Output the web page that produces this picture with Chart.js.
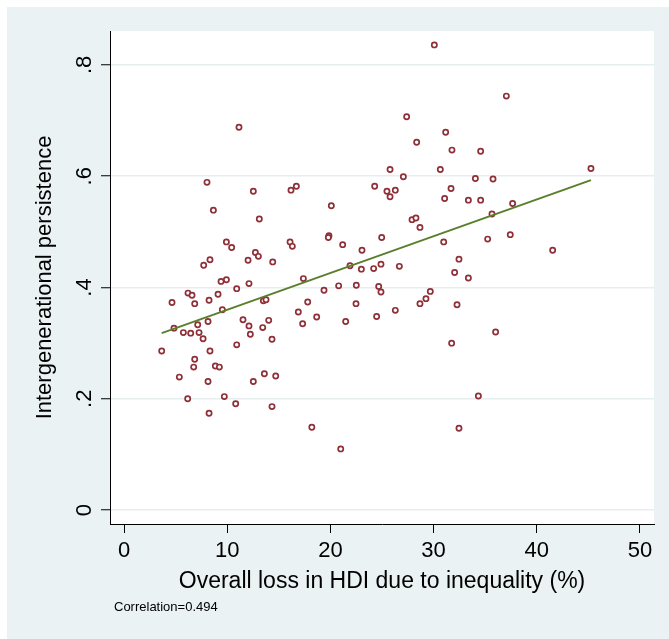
<!DOCTYPE html>
<html>
<head>
<meta charset="utf-8">
<script src="https://cdn.jsdelivr.net/npm/chart.js@4"></script>
<style>
  html, body { margin: 0; padding: 0; background: #ffffff; }
  #wrap { position: relative; width: 669px; height: 639px; }
  #note { position: absolute; left: 114px; top: 599px; font: 13px "Liberation Sans", Arial, sans-serif; color: #000; white-space: nowrap; }
</style>
</head>
<body>
<div id="wrap">
  <canvas id="c" width="669" height="639"></canvas>
  <div id="note">Correlation=0.494</div>
</div>
<script>
// Overall loss in HDI due to inequality (%)
const lossHDI = [
  11.14, 8.04, 12.53, 16.18, 16.7, 8.66, 13.11, 9.92, 10.43, 16.09,
  16.31, 12.73, 13.02, 8.33, 7.72, 12.02, 14.41, 9.92, 9.4, 17.38,
  12.11, 10.92, 6.2, 6.59, 9.11, 4.65, 6.85, 8.24, 13.5, 13.76,
  17.8, 16.89, 18.67, 17.31, 9.53, 8.14, 7.14, 4.84, 5.75, 6.46,
  7.27, 7.66, 11.53, 12.11, 14.02, 13.44, 12.24, 14.34, 10.92, 3.65,
  8.33, 6.85, 6.75, 8.85, 9.24, 5.36, 8.14, 13.6, 14.7, 12.53,
  6.17, 9.72, 10.82, 14.34, 8.24, 30.07, 27.39, 31.17, 28.36, 31.78,
  34.56, 25.78, 30.65, 27.07, 34.05, 35.76, 24.29, 25.48, 26.29, 25.78,
  31.69, 31.07, 33.37, 34.56, 20.09, 35.66, 27.91, 28.29, 28.68, 19.86,
  19.8, 21.19, 24.97, 23.06, 35.24, 30.98, 32.46, 32.04, 33.37, 21.9,
  23.0, 24.19, 24.9, 26.68, 19.38, 20.8, 22.51, 24.68, 24.9, 29.68,
  29.26, 28.68, 32.27, 22.48, 21.48, 24.48, 26.29, 36.01, 31.75, 34.34,
  32.46, 21.0, 18.2, 37.05, 45.25, 37.66, 37.43, 41.54
];
// Intergenerational persistence
const persistence = [
  0.688, 0.589, 0.573, 0.575, 0.582, 0.539, 0.523, 0.482, 0.472, 0.482,
  0.474, 0.463, 0.456, 0.450, 0.440, 0.449, 0.446, 0.414, 0.411, 0.416,
  0.407, 0.398, 0.390, 0.386, 0.388, 0.373, 0.371, 0.377, 0.376, 0.378,
  0.374, 0.356, 0.347, 0.335, 0.360, 0.339, 0.333, 0.327, 0.319, 0.318,
  0.319, 0.308, 0.342, 0.331, 0.341, 0.328, 0.316, 0.307, 0.297, 0.286,
  0.286, 0.271, 0.257, 0.259, 0.257, 0.239, 0.231, 0.245, 0.241, 0.231,
  0.200, 0.204, 0.191, 0.186, 0.174, 0.836, 0.707, 0.679, 0.661, 0.647,
  0.645, 0.612, 0.612, 0.599, 0.596, 0.595, 0.582, 0.573, 0.575, 0.563,
  0.578, 0.560, 0.557, 0.557, 0.547, 0.532, 0.522, 0.525, 0.508, 0.493,
  0.490, 0.477, 0.490, 0.467, 0.487, 0.482, 0.451, 0.427, 0.417, 0.439,
  0.433, 0.434, 0.442, 0.438, 0.395, 0.403, 0.404, 0.402, 0.392, 0.393,
  0.380, 0.371, 0.369, 0.371, 0.339, 0.348, 0.359, 0.320, 0.300, 0.205,
  0.147, 0.110, 0.149, 0.744, 0.614, 0.551, 0.495, 0.467
];
// Linear fit line endpoints
const fitX = [3.65, 45.25];
const fitY = [0.318, 0.593];
// Tick values and labels
const xTicks = [0, 10, 20, 30, 40, 50];
const yTicks = [0, 0.2, 0.4, 0.6, 0.8];
const yTickLabels = ["0", ".2", ".4", ".6", ".8"];

const scatterData = lossHDI.map((x, i) => ({ x: x, y: persistence[i] }));
const fitData = fitX.map((x, i) => ({ x: x, y: fitY[i] }));

const BG = '#eaf2f3';
const FONT = '"Liberation Sans", Arial, sans-serif';

const bgPlugin = {
  id: 'bg',
  beforeDraw(chart) {
    const ctx = chart.ctx, a = chart.chartArea;
    ctx.save();
    ctx.fillStyle = '#ffffff';
    ctx.fillRect(0, 0, chart.width, chart.height);
    ctx.fillStyle = BG;
    ctx.fillRect(7, 7, chart.width - 7, chart.height - 7);
    ctx.fillStyle = '#ffffff';
    ctx.fillRect(a.left, a.top, a.right - a.left, a.bottom - a.top);
    ctx.restore();
  }
};

new Chart(document.getElementById('c'), {
  type: 'scatter',
  data: {
    datasets: [
      {
        type: 'line',
        label: 'Fitted values',
        data: fitData,
        borderColor: '#5a7f2c',
        borderWidth: 2,
        pointRadius: 0,
        fill: false,
        order: 0
      },
      {
        label: 'Intergenerational persistence',
        data: scatterData,
        pointStyle: 'circle',
        pointRadius: 2.6,
        pointBorderWidth: 1.7,
        pointBackgroundColor: '#ffffff',
        pointBorderColor: '#8f2f37',
        borderColor: '#8f2f37',
        backgroundColor: '#ffffff',
        order: 1
      }
    ]
  },
  options: {
    responsive: false,
    animation: false,
    devicePixelRatio: 1,
    layout: { padding: { left: 0, top: 31, right: 15, bottom: 0 } },
    plugins: { legend: { display: false }, tooltip: { enabled: false } },
    scales: {
      x: {
        type: 'linear',
        min: -1.36,
        max: 51.36,
        afterBuildTicks(scale) { scale.ticks = xTicks.map(v => ({ value: v })); },
        afterFit(scale) { scale.height = 115; },
        ticks: {
          color: '#000',
          font: { family: FONT, size: 22 },
          padding: 5,
          maxRotation: 0,
          minRotation: 0,
          callback: (v) => String(v)
        },
        grid: { drawOnChartArea: false, drawTicks: true, tickLength: 9, tickColor: '#000', tickWidth: 1 },
        border: { display: true, color: '#000', width: 1 },
        title: {
          display: true,
          text: 'Overall loss in HDI due to inequality (%)',
          color: '#000',
          font: { family: FONT, size: 23 },
          padding: { top: 0, bottom: 44 }
        }
      },
      y: {
        type: 'linear',
        min: -0.025,
        max: 0.861,
        afterBuildTicks(scale) { scale.ticks = yTicks.map(v => ({ value: v })); },
        afterFit(scale) { scale.width = 110; },
        ticks: {
          color: '#000',
          font: { family: FONT, size: 22 },
          padding: 7,
          minRotation: 90,
          maxRotation: 90,
          crossAlign: 'center',
          callback: (v) => {
            const i = yTicks.findIndex(t => Math.abs(t - v) < 1e-9);
            return i >= 0 ? yTickLabels[i] : '';
          }
        },
        grid: { drawOnChartArea: true, color: '#e6eef0', lineWidth: 1.5, drawTicks: true, tickLength: 9, tickColor: '#000', tickWidth: 1 },
        border: { display: true, color: '#000', width: 1 },
        title: {
          display: true,
          text: 'Intergenerational persistence',
          color: '#000',
          font: { family: FONT, size: 22 },
          padding: { top: 32, bottom: 0 }
        }
      }
    }
  },
  plugins: [bgPlugin]
});
</script>
</body>
</html>
